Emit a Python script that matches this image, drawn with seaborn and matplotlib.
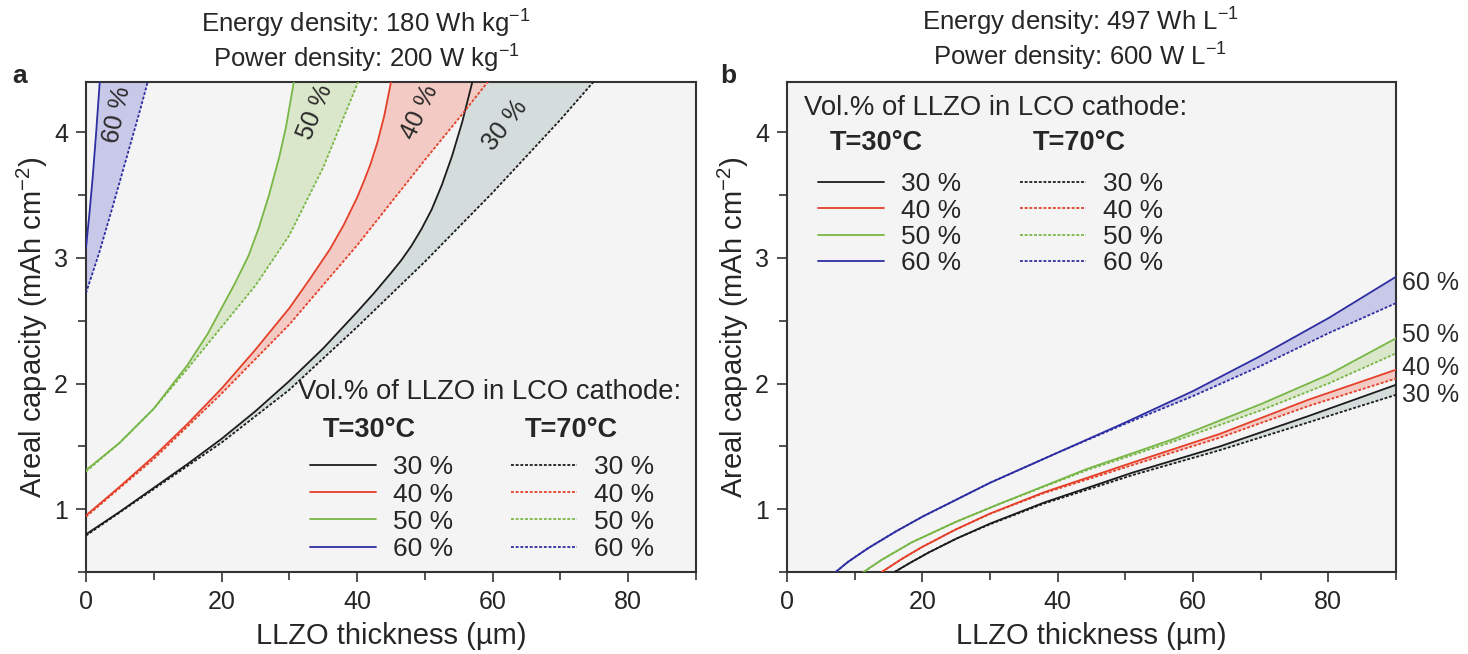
import numpy as np
import matplotlib
matplotlib.use("Agg")
import matplotlib.pyplot as plt
import seaborn as sns
from matplotlib.lines import Line2D

# ---------------- data ----------------
levels = ["30 %", "40 %", "50 %", "60 %"]

# Panel a (gravimetric: 180 Wh/kg, 200 W/kg)
a_x30_s = [0, 5, 10, 15, 20, 25, 30, 35, 40, 42.5, 45, 46.5, 48, 49.5, 51, 52.5, 54, 55.5, 57, 58]
a_y30_s = [0.80, 0.98, 1.17, 1.36, 1.56, 1.78, 2.02, 2.28, 2.57, 2.72, 2.88, 2.98, 3.095, 3.23, 3.385,
           3.58, 3.81, 4.08, 4.40, 4.63]
a_x30_d = [0, 10, 20, 30, 40, 50, 60, 70, 76]
a_y30_d = [0.79, 1.16, 1.53, 1.95, 2.45, 2.97, 3.52, 4.10, 4.47]

a_x40_s = [0, 5, 10, 15, 20, 25, 30, 33, 36, 38, 40, 41, 42, 43, 44, 45, 45.8]
a_y40_s = [0.95, 1.18, 1.42, 1.68, 1.96, 2.27, 2.60, 2.83, 3.07, 3.26, 3.48, 3.61, 3.75, 3.92, 4.13, 4.40, 4.65]
a_x40_d = [0, 10, 20, 30, 40, 45, 50, 55, 60]
a_y40_d = [0.94, 1.40, 1.92, 2.47, 3.10, 3.44, 3.78, 4.11, 4.45]

a_x50_s = [0, 5, 10, 15, 18, 20, 22, 24, 25.5, 27, 28.5, 29.5, 30.6, 31.3]
a_y50_s = [1.31, 1.53, 1.80, 2.15, 2.40, 2.60, 2.80, 3.02, 3.24, 3.50, 3.80, 4.04, 4.38, 4.60]
a_x50_d = [0, 5, 10, 15, 20, 25, 30, 35, 40, 41]
a_y50_d = [1.30, 1.53, 1.80, 2.12, 2.45, 2.78, 3.18, 3.72, 4.38, 4.52]

a_x60_s = [0, 0.5, 1, 1.5, 2, 2.3]
a_y60_s = [3.08, 3.35, 3.65, 4.00, 4.38, 4.60]
a_x60_d = [0, 2, 4, 6, 8, 9, 9.5]
a_y60_d = [2.72, 3.05, 3.42, 3.80, 4.18, 4.38, 4.50]

# Panel b (volumetric: 497 Wh/L, 600 W/L)
b_x30 = [15.9, 18, 21, 25, 30, 38, 51, 64, 77, 90]
b_y30_s = [0.50, 0.567, 0.657, 0.765, 0.885, 1.053, 1.29, 1.50, 1.74, 1.99]
b_y30_d = [0.50, 0.567, 0.657, 0.765, 0.880, 1.045, 1.27, 1.47, 1.69, 1.91]

b_x40 = [14, 17, 20, 25, 30, 38, 51, 64, 77, 90]
b_y40_s = [0.50, 0.605, 0.70, 0.84, 0.965, 1.135, 1.37, 1.60, 1.87, 2.11]
b_y40_d = [0.50, 0.605, 0.70, 0.84, 0.963, 1.128, 1.35, 1.57, 1.82, 2.04]

b_x50 = [11.3, 14, 18.4, 25, 31.3, 44.3, 57.2, 70.2, 80, 90]
b_y50_s = [0.50, 0.597, 0.735, 0.90, 1.04, 1.32, 1.56, 1.84, 2.07, 2.36]
b_y50_d = [0.50, 0.597, 0.735, 0.90, 1.04, 1.31, 1.54, 1.79, 2.00, 2.24]

b_x60 = [7.2, 9, 12, 16, 20, 30, 40, 50, 60, 70, 80, 90]
b_y60_s = [0.50, 0.58, 0.69, 0.82, 0.94, 1.21, 1.45, 1.69, 1.94, 2.22, 2.52, 2.85]
b_y60_d = [0.50, 0.58, 0.69, 0.82, 0.94, 1.21, 1.45, 1.68, 1.90, 2.14, 2.40, 2.64]

# label positions / texts
a_lab_x = [61.8, 49.3, 33.8, 4.6]
a_lab_y = [4.06, 4.16, 4.16, 4.14]
a_lab_rot = [52, 65, 68, 78]
b_lab_y = [1.91, 2.12, 2.39, 2.80]

xticks = [0, 20, 40, 60, 80]
yticks = [1, 2, 3, 4]

# ---------------- styling ----------------
line_cols = ["#1c1c1c", "#e4402a", "#78b646", "#2e2ea2"]
fill_cols = ["#d5dcdc", "#f3cbc4", "#dbe7ca", "#c8c8e8"]
DOT = (0, (1.6, 1.0))

sns.set_theme(style="white")
plt.rcParams["font.family"] = ["Liberation Sans", "DejaVu Sans"]
plt.rcParams["mathtext.fontset"] = "custom"
plt.rcParams["mathtext.rm"] = "Liberation Sans"
plt.rcParams["mathtext.it"] = "Liberation Sans:italic"
plt.rcParams["mathtext.bf"] = "Liberation Sans:bold"

W, H = 1468, 654
fig = plt.figure(figsize=(W / 100, H / 100), dpi=100)
fig.patch.set_facecolor("white")
axa = fig.add_axes([86 / W, 1 - 572 / H, 610 / W, 490 / H])
axb = fig.add_axes([787 / W, 1 - 572 / H, 609 / W, 490 / H])

a_series = [
    (a_x30_s, a_y30_s, a_x30_d, a_y30_d),
    (a_x40_s, a_y40_s, a_x40_d, a_y40_d),
    (a_x50_s, a_y50_s, a_x50_d, a_y50_d),
    (a_x60_s, a_y60_s, a_x60_d, a_y60_d),
]
b_series = [
    (b_x30, b_y30_s, b_x30, b_y30_d),
    (b_x40, b_y40_s, b_x40, b_y40_d),
    (b_x50, b_y50_s, b_x50, b_y50_d),
    (b_x60, b_y60_s, b_x60, b_y60_d),
]

for ax, series in [(axa, a_series), (axb, b_series)]:
    ax.set_facecolor("#f4f4f4")
    for i, (xs, ys, xd, yd) in enumerate(series):
        ax.fill(np.r_[xs, np.array(xd)[::-1]], np.r_[ys, np.array(yd)[::-1]],
                color=fill_cols[i], lw=0, zorder=1)
        sns.lineplot(x=xs, y=ys, ax=ax, color=line_cols[i], lw=1.3,
                     estimator=None, sort=False, zorder=3)
        sns.lineplot(x=xd, y=yd, ax=ax, color=line_cols[i], lw=1.3,
                     linestyle=DOT, estimator=None, sort=False, zorder=3)
    ax.set_xlim(0, 90)
    ax.set_ylim(0.5, 4.4)
    ax.set_xticks(xticks)
    ax.set_xticks([10, 30, 50, 70, 90], minor=True)
    ax.set_yticks(yticks)
    ax.set_yticks([0.5, 1.5, 2.5, 3.5], minor=True)
    ax.tick_params(which="major", direction="out", length=7, width=1.2,
                   labelsize=18, color="#333333", bottom=True, left=True, pad=6)
    ax.tick_params(which="minor", direction="out", length=6, width=1.2,
                   color="#333333", bottom=True, left=True)
    for sp in ax.spines.values():
        sp.set_color("#333333")
        sp.set_linewidth(1.5)
    ax.set_xlabel("LLZO thickness (µm)", fontsize=21, labelpad=6)
    ax.set_ylabel("Areal capacity (mAh cm$^{-2}$)", fontsize=21, labelpad=3)
    if ax.get_legend():
        ax.get_legend().remove()

# percentage labels
for i in range(4):
    axa.text(a_lab_x[i], a_lab_y[i], levels[i], rotation=a_lab_rot[i],
             ha="center", va="center", fontsize=18, color="#2a2a2a", zorder=4)
    axb.text(90.9, b_lab_y[i], levels[i], ha="left", va="center",
             fontsize=18, color="#2a2a2a", clip_on=False)

# titles
axa.text(0.459, 1.118, "Energy density: 180 Wh kg$^{-1}$", transform=axa.transAxes,
         ha="center", va="center", fontsize=18.5)
axa.text(0.459, 1.047, "Power density: 200 W kg$^{-1}$", transform=axa.transAxes,
         ha="center", va="center", fontsize=18.5)
axb.text(0.481, 1.122, "Energy density: 497 Wh L$^{-1}$", transform=axb.transAxes,
         ha="center", va="center", fontsize=18.5)
axb.text(0.481, 1.051, "Power density: 600 W L$^{-1}$", transform=axb.transAxes,
         ha="center", va="center", fontsize=18.5)
fig.text(20 / W, 1 - 76 / H, "a", fontsize=19, fontweight="bold", ha="center", va="center")
fig.text(728 / W, 1 - 76 / H, "b", fontsize=19, fontweight="bold", ha="center", va="center")

# legends
def legends(ax, title_xy, title_ha, h30_xy, h70_xy, l30_xy, l70_xy, spacing):
    ax.text(*title_xy, "Vol.% of LLZO in LCO cathode:", transform=ax.transAxes,
            ha=title_ha, va="center", fontsize=19.8)
    ax.text(*h30_xy, "T=30°C", transform=ax.transAxes, ha="left", va="center",
            fontsize=19.5, fontweight="bold")
    ax.text(*h70_xy, "T=70°C", transform=ax.transAxes, ha="left", va="center",
            fontsize=19.5, fontweight="bold")
    hs = [Line2D([], [], color=c, lw=1.3) for c in line_cols]
    hd = [Line2D([], [], color=c, lw=1.3, linestyle=DOT) for c in line_cols]
    l1 = ax.legend(hs, levels, loc="upper left", bbox_to_anchor=l30_xy,
                   frameon=False, borderpad=0, borderaxespad=0, fontsize=19,
                   handlelength=2.5, handletextpad=0.65, labelspacing=spacing)
    ax.add_artist(l1)
    ax.legend(hd, levels, loc="upper left", bbox_to_anchor=l70_xy,
              frameon=False, borderpad=0, borderaxespad=0, fontsize=19,
              handlelength=2.5, handletextpad=0.65, labelspacing=spacing)

legends(axa, (0.975, 0.367), "right", (0.388, 0.29), (0.720, 0.29),
        (0.367, 0.238), (0.696, 0.238), 0.12)
legends(axb, (0.028, 0.947), "left", (0.071, 0.876), (0.404, 0.876),
        (0.051, 0.816), (0.383, 0.816), 0.09)

fig.savefig("out.png", dpi=100, facecolor="white")
